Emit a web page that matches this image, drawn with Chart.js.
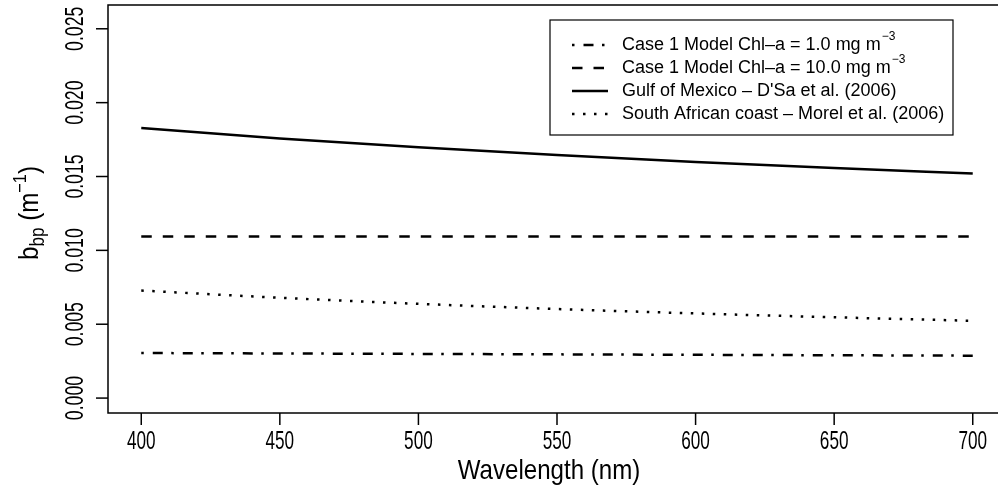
<!DOCTYPE html>
<html>
<head>
<meta charset="utf-8">
<script src="https://cdn.jsdelivr.net/npm/chart.js@4/dist/chart.umd.min.js"></script>
<style>
  html, body { margin: 0; padding: 0; background: #fff; overflow: hidden; }
  #wrap { width: 1010px; height: 495px; }
</style>
</head>
<body>
<div id="wrap"><canvas id="myChart" width="1010" height="495"></canvas></div>
<script>
// wavelengths (nm) and particulate backscattering values
var wavelength = [400, 450, 500, 550, 600, 650, 700];
var chl1 = [0.00305, 0.00302, 0.00299, 0.00296, 0.00293, 0.00290, 0.00287];
var chl10 = [0.01094, 0.01094, 0.01094, 0.01094, 0.01094, 0.01094, 0.01094];
var gulf = [0.01828, 0.01758, 0.01698, 0.01646, 0.01599, 0.01557, 0.01520];
var southAfrica = [0.00728, 0.00679, 0.00638, 0.00603, 0.00573, 0.00547, 0.00523];

var xTicks = [400, 450, 500, 550, 600, 650, 700];
var yTicks = [0, 0.005, 0.010, 0.015, 0.020, 0.025];
var yTickLabels = ["0.000", "0.005", "0.010", "0.015", "0.020", "0.025"];

var legendNames = [
    ["Case 1 Model Chl\u2013a = 1.0 mg m", "\u22123"],
    ["Case 1 Model Chl\u2013a = 10.0 mg m", "\u22123"],
    ["Gulf of Mexico \u2013 D'Sa et al. (2006)", ""],
    ["South African coast \u2013 Morel et al. (2006)", ""]
];
var dashes = [[2.5, 9, 10, 8.5], [10.5, 11], [], [2.5, 8.5]];

function toPoints(ys) {
    return wavelength.map(function (w, i) { return { x: w, y: ys[i] }; });
}

var FONT = '"Liberation Sans", Arial, sans-serif';

// text squeezed along its own direction (the reference uses a narrow face)
function squeezed(ctx, txt, x, y, size, sx, rot, align, base) {
    ctx.save();
    ctx.translate(x, y);
    if (rot) ctx.rotate(rot);
    ctx.scale(sx, 1);
    ctx.font = size + "px " + FONT;
    ctx.textAlign = align;
    ctx.textBaseline = base;
    ctx.fillText(txt, 0, 0);
    ctx.restore();
}

var rAxes = {
    id: "rAxes",
    afterDraw: function (chart) {
        var ctx = chart.ctx;
        var a = chart.chartArea;
        var xs = chart.scales.x, ys = chart.scales.y;
        ctx.save();
        ctx.strokeStyle = "#000";
        ctx.fillStyle = "#000";
        ctx.lineWidth = 1.5;
        ctx.setLineDash([]);
        ctx.strokeRect(a.left, a.top, a.right - a.left, a.bottom - a.top);

        // x axis
        xTicks.forEach(function (t) {
            var px = xs.getPixelForValue(t);
            ctx.beginPath();
            ctx.moveTo(px, a.bottom);
            ctx.lineTo(px, a.bottom + 12);
            ctx.stroke();
            squeezed(ctx, String(t), px, 442, 26, 0.66, 0, "center", "middle");
        });
        squeezed(ctx, "Wavelength (nm)", (a.left + a.right) / 2 - 8, 471, 28, 0.86, 0, "center", "middle");

        // y axis
        yTicks.forEach(function (t, i) {
            var py = ys.getPixelForValue(t);
            ctx.beginPath();
            ctx.moveTo(a.left, py);
            ctx.lineTo(a.left - 12, py);
            ctx.stroke();
            squeezed(ctx, yTickLabels[i], 83, py, 26, 0.68, -Math.PI / 2, "center", "alphabetic");
        });

        // y title: b_bp (m^-1)
        ctx.save();
        ctx.translate(38, (a.top + a.bottom) / 2 + 4);
        ctx.rotate(-Math.PI / 2);
        ctx.scale(0.86, 1);
        ctx.textBaseline = "alphabetic";
        ctx.textAlign = "left";
        var parts = [
            ["b", 28, 0], ["bp", 20, 6], [" (m", 28, 0], ["\u22121", 19, -12], [")", 28, 0]
        ];
        var total = 0;
        parts.forEach(function (p) { ctx.font = p[1] + "px " + FONT; total += ctx.measureText(p[0]).width; });
        var cx = -total / 2;
        parts.forEach(function (p) {
            ctx.font = p[1] + "px " + FONT;
            ctx.fillText(p[0], cx, p[2]);
            cx += ctx.measureText(p[0]).width;
        });
        ctx.restore();

        // legend
        var lx = 550, ly = 20, lw = 403, lh = 115;
        ctx.fillStyle = "#fff";
        ctx.fillRect(lx, ly, lw, lh);
        ctx.strokeStyle = "#000";
        ctx.lineWidth = 1.2;
        ctx.strokeRect(lx, ly, lw, lh);
        var rows = [45, 68, 91, 114];
        rows.forEach(function (ry, i) {
            ctx.lineWidth = 2.5;
            ctx.setLineDash(dashes[i]);
            ctx.beginPath();
            ctx.moveTo(572, ry);
            ctx.lineTo(608, ry);
            ctx.stroke();
            ctx.setLineDash([]);
            ctx.fillStyle = "#000";
            ctx.textAlign = "left";
            ctx.textBaseline = "middle";
            ctx.font = "18px " + FONT;
            ctx.fillText(legendNames[i][0], 622, ry);
            if (legendNames[i][1]) {
                var w = ctx.measureText(legendNames[i][0]).width;
                ctx.font = "12px " + FONT;
                ctx.fillText(legendNames[i][1], 622 + w + 1, ry - 8);
            }
        });
        ctx.restore();
    }
};

new Chart("myChart", {
    type: "line",
    data: {
        datasets: [
            { data: toPoints(chl1), borderDash: dashes[0] },
            { data: toPoints(chl10), borderDash: dashes[1] },
            { data: toPoints(gulf), borderDash: dashes[2] },
            { data: toPoints(southAfrica), borderDash: dashes[3] }
        ].map(function (d) {
            d.borderColor = "#000";
            d.borderWidth = 2.5;
            d.pointRadius = 0;
            d.fill = false;
            d.cubicInterpolationMode = "monotone";
            return d;
        })
    },
    options: {
        responsive: false,
        animation: false,
        devicePixelRatio: 1,
        layout: { padding: { left: 108, top: 5, right: 4, bottom: 82 } },
        plugins: { legend: { display: false }, tooltip: { enabled: false } },
        scales: {
            x: { type: "linear", min: 388, max: 712, display: false },
            y: { type: "linear", min: -0.00101, max: 0.02661, display: false }
        }
    },
    plugins: [rAxes]
});
</script>
</body>
</html>
